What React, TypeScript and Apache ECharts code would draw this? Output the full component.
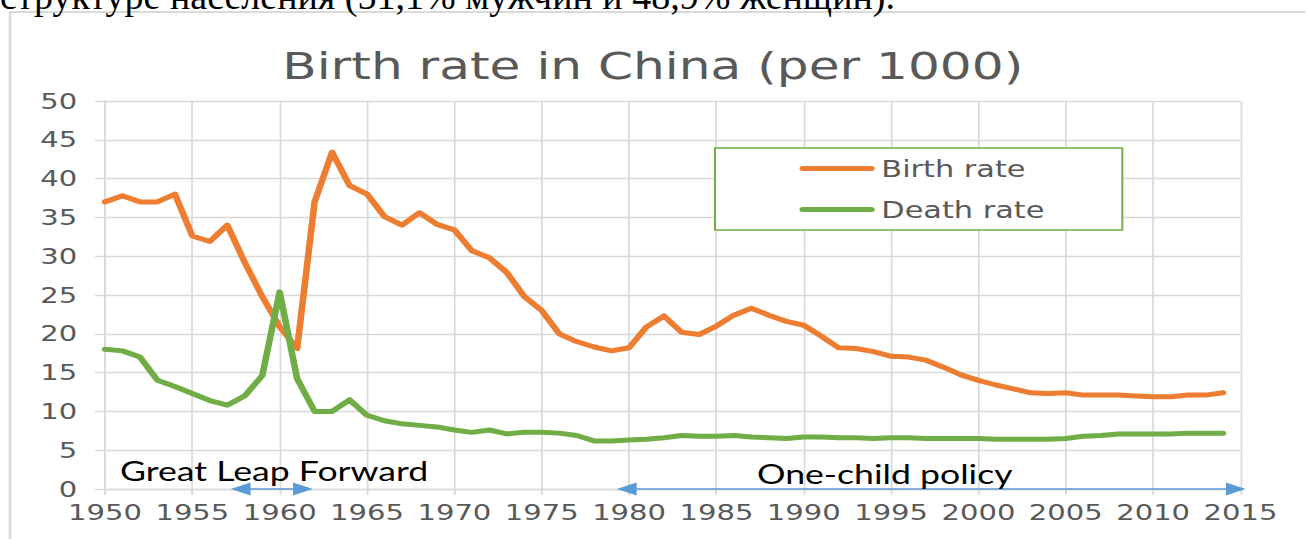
import React, { useEffect, useRef } from "react";
import * as echarts from "echarts";

const S = 1.32; // horizontal stretch of the reference picture
const W = 1306 / S;
const H = 539;

const years = [
  1950, 1951, 1952, 1953, 1954, 1955, 1956, 1957, 1958, 1959,
  1960, 1961, 1962, 1963, 1964, 1965, 1966, 1967, 1968, 1969,
  1970, 1971, 1972, 1973, 1974, 1975, 1976, 1977, 1978, 1979,
  1980, 1981, 1982, 1983, 1984, 1985, 1986, 1987, 1988, 1989,
  1990, 1991, 1992, 1993, 1994, 1995, 1996, 1997, 1998, 1999,
  2000, 2001, 2002, 2003, 2004, 2005, 2006, 2007, 2008, 2009,
  2010, 2011, 2012, 2013, 2014,
];

const birthRate = [
  37.0, 37.8, 37.0, 37.0, 38.0, 32.6, 31.9, 34.0, 29.2, 24.8,
  20.9, 18.1, 37.0, 43.4, 39.1, 38.0, 35.1, 34.0, 35.6, 34.1,
  33.4, 30.7, 29.8, 27.9, 24.8, 23.0, 20.0, 19.0, 18.3, 17.8,
  18.2, 20.9, 22.3, 20.2, 19.9, 21.0, 22.4, 23.3, 22.4, 21.6,
  21.1, 19.7, 18.2, 18.1, 17.7, 17.1, 17.0, 16.6, 15.7, 14.7,
  14.0, 13.4, 12.9, 12.4, 12.3, 12.4, 12.1, 12.1, 12.1, 12.0,
  11.9, 11.9, 12.1, 12.1, 12.4,
];

const deathRate = [
  18.0, 17.8, 17.0, 14.0, 13.2, 12.3, 11.4, 10.8, 12.0, 14.6,
  25.4, 14.2, 10.0, 10.0, 11.5, 9.5, 8.8, 8.4, 8.2, 8.0,
  7.6, 7.3, 7.6, 7.1, 7.3, 7.3, 7.2, 6.9, 6.2, 6.2,
  6.3, 6.4, 6.6, 6.9, 6.8, 6.8, 6.9, 6.7, 6.6, 6.5,
  6.7, 6.7, 6.6, 6.6, 6.5, 6.6, 6.6, 6.5, 6.5, 6.5,
  6.5, 6.4, 6.4, 6.4, 6.4, 6.5, 6.8, 6.9, 7.1, 7.1,
  7.1, 7.1, 7.2, 7.2, 7.2,
];

const seriesNames = ["Birth rate", "Death rate"];
const titleText = "Birth rate in China (per 1000)";
const headerText = "структуре населения (51,1% мужчин и 48,9% женщин).";

// annotated periods (years along the x axis)
const periodLabels = ["Great Leap Forward", "One-child policy"];
const periodFrom = [1957.2, 1979.3];
const periodTo = [1961.9, 2015.3];

const GRID = "#d9d9d9";
const TXT = "#595959";
const ORANGE = "#ed7d31";
const GREEN = "#70ad47";
const BLUE = "#5b9bd5";

const LEGEND_ICON =
  "path://M2.5,0 L54.5,0 A2.5,2.5 0 0 1 54.5,5 L2.5,5 A2.5,2.5 0 0 1 2.5,0 Z";

export default function App() {
  const ref = useRef<HTMLDivElement>(null);

  useEffect(() => {
    if (!ref.current) return;
    const chart = echarts.init(ref.current, null, { renderer: "svg" });
    const option: any = {
      animation: false,
      backgroundColor: "#fff",
      title: {
        text: titleText,
        left: "center",
        top: 42,
        textStyle: {
          fontFamily: "DejaVu Sans",
          fontSize: 38,
          fontWeight: "normal",
          color: TXT,
        },
      },
      legend: {
        data: seriesNames.map((n) => ({ name: n, icon: LEGEND_ICON })),
        orient: "vertical",
        left: 715 / S,
        top: 148,
        padding: [9, 59, 9, 64],
        itemGap: 18,
        itemWidth: 57,
        itemHeight: 5,
        backgroundColor: "#fff",
        borderColor: GREEN,
        borderWidth: 1.5,
        borderRadius: 0,
        textStyle: { fontFamily: "DejaVu Sans", fontSize: 23, color: TXT },
      },
      grid: { left: 105 / S, right: W - 1241 / S, top: 101, bottom: H - 489 },
      xAxis: {
        type: "value",
        min: 1950,
        max: 2015,
        interval: 5,
        axisLine: { show: true, lineStyle: { color: GRID, width: 1.4 } },
        axisTick: { show: true, length: 6, lineStyle: { color: GRID, width: 1.4 } },
        splitLine: { show: true, lineStyle: { color: GRID, width: 1.3 } },
        axisLabel: {
          fontFamily: "DejaVu Sans",
          fontSize: 22,
          color: TXT,
          margin: 12,
          formatter: (v: number) => String(v),
        },
      },
      yAxis: {
        type: "value",
        min: 0,
        max: 50,
        interval: 5,
        axisLine: { show: true, lineStyle: { color: GRID, width: 1.3 } },
        axisTick: { show: true, length: 7.5, lineStyle: { color: GRID, width: 1.4 } },
        splitLine: { show: true, lineStyle: { color: GRID, width: 1.4 } },
        axisLabel: {
          fontFamily: "DejaVu Sans",
          fontSize: 22,
          color: TXT,
          margin: 21,
        },
      },
      series: [
        {
          name: seriesNames[0],
          type: "line",
          data: years.map((y, i) => [y, birthRate[i]]),
          symbol: "none",
          showSymbol: false,
          lineStyle: { color: ORANGE, width: 5, cap: "round", join: "round" },
          itemStyle: { color: ORANGE },
        },
        {
          name: seriesNames[1],
          type: "line",
          data: years.map((y, i) => [y, deathRate[i]]),
          symbol: "none",
          showSymbol: false,
          lineStyle: { color: GREEN, width: 5, cap: "round", join: "round" },
          itemStyle: { color: GREEN },
        },
      ],
    };
    chart.setOption(option);

    const graphics: any[] = [
      {
        type: "rect",
        silent: true,
        z: -10,
        shape: { x: 10 / S, y: 12, width: 2000, height: 1000 },
        style: { fill: "none", stroke: GRID, lineWidth: 2 },
      },
      {
        type: "text",
        silent: true,
        x: 0,
        y: 15,
        scaleX: 1 / S,
        style: {
          text: headerText,
          fontFamily: "Liberation Serif",
          fontSize: 38,
          fill: "#000",
          align: "left",
          verticalAlign: "bottom",
        },
      },
    ];

    const AL = 15;
    const AH = 6.5;
    for (let i = 0; i < periodLabels.length; i++) {
      const p1 = chart.convertToPixel({ gridIndex: 0 }, [periodFrom[i], 0]) as number[];
      const p2 = chart.convertToPixel({ gridIndex: 0 }, [periodTo[i], 0]) as number[];
      const y0 = p1[1];
      graphics.push({
        type: "line",
        silent: true,
        z: 20,
        shape: { x1: p1[0] + 2, y1: y0, x2: p2[0] - 2, y2: y0 },
        style: { stroke: BLUE, lineWidth: 1.5 },
      });
      graphics.push({
        type: "polygon",
        silent: true,
        z: 20,
        shape: { points: [[p1[0], y0], [p1[0] + AL, y0 - AH], [p1[0] + AL, y0 + AH]] },
        style: { fill: BLUE },
      });
      graphics.push({
        type: "polygon",
        silent: true,
        z: 20,
        shape: { points: [[p2[0], y0], [p2[0] - AL, y0 - AH], [p2[0] - AL, y0 + AH]] },
        style: { fill: BLUE },
      });
    }

    graphics.push({
      type: "text",
      silent: true,
      z: 20,
      x: 120 / S,
      y: 471,
      style: {
        text: periodLabels[0],
        fontFamily: "Lato",
        fontSize: 27,
        fill: "#000",
        align: "left",
        verticalAlign: "middle",
      },
    });
    graphics.push({
      type: "text",
      silent: true,
      z: 20,
      x: 757 / S,
      y: 473.5,
      style: {
        text: periodLabels[1],
        fontFamily: "Lato",
        fontSize: 27,
        fill: "#000",
        align: "left",
        verticalAlign: "middle",
      },
    });

    chart.setOption({ graphic: graphics });

    return () => chart.dispose();
  }, []);

  return (
    <div
      style={{
        position: "fixed",
        left: 0,
        top: 0,
        width: 1306,
        height: H,
        overflow: "hidden",
        background: "#fff",
      }}
    >
      <div
        ref={ref}
        style={{
          width: W,
          height: H,
          transform: `scaleX(${S})`,
          transformOrigin: "0 0",
        }}
      />
    </div>
  );
}
